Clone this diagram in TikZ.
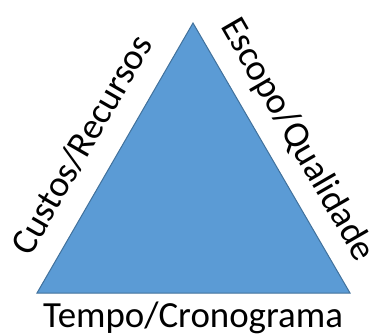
\documentclass[tikz,border=0pt]{standalone}
\usepackage{fontspec}
\setmainfont{Carlito}
\definecolor{triblue}{HTML}{5B9BD5}
\definecolor{triedge}{HTML}{41719C}

\begin{document}
\begin{tikzpicture}[x=1bp,y=-1bp,
        lbl/.style={font=\fontsize{37}{37}\selectfont, inner sep=0pt, anchor=base}]
            \useasboundingbox (0,0) rectangle (378,334);

            \coordinate (t1) at (193, 23);
            \coordinate (t2) at ( 37,293);
            \coordinate (t3) at (350,293);

            \filldraw[fill=triblue, draw=triedge, line width=1bp] (t1)--(t2)--(t3)--cycle;

            \node[lbl, rotate=60]  (custos) at ( 91.8,150.5) {Custos/Recursos};
            \node[lbl, rotate=-60] (escopo) at (288.5,144.5) {Escopo/Qualidade};
            \node[lbl]             (tempo)  at (193  ,327.5) {Tempo/Cronograma};
        \end{tikzpicture}
\end{document}
